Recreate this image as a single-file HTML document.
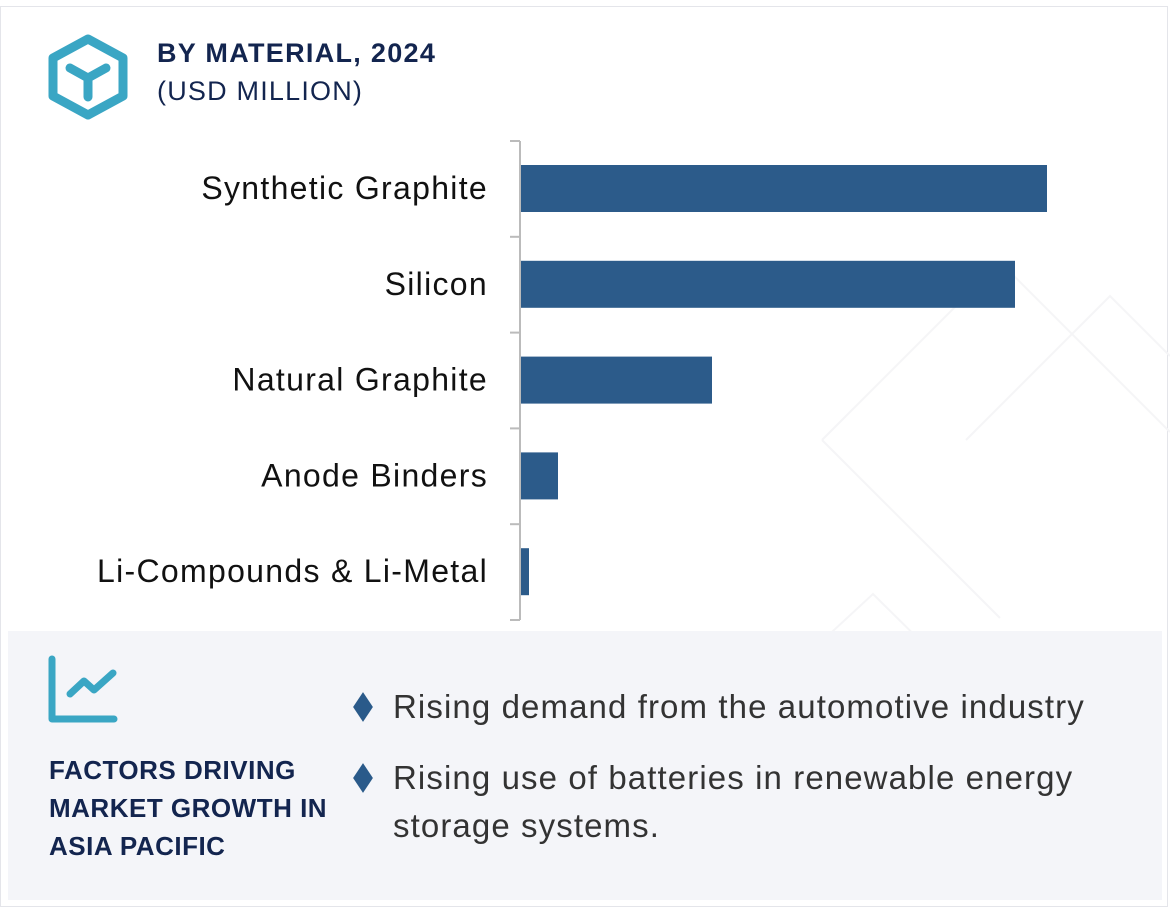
<!DOCTYPE html>
<html><head><meta charset="utf-8"><style>
body{margin:0;background:#fff;}
#wrap{position:relative;width:1170px;height:909px;overflow:hidden;font-family:"Liberation Sans",sans-serif;}
#frame{position:absolute;left:0;top:6px;width:1168px;height:901px;border:1px solid #e4e5ea;box-sizing:border-box;}
.t1{position:absolute;left:157px;top:38px;font-size:27px;font-weight:bold;color:#13254f;letter-spacing:1.3px;}
.t2{position:absolute;left:157px;top:76px;font-size:27px;color:#13254f;letter-spacing:1.2px;}
#panel{position:absolute;left:8px;top:631px;width:1154px;height:269px;background:#f4f5f9;}
.ft{position:absolute;left:49px;top:751px;font-size:26px;font-weight:bold;color:#13254f;line-height:38px;letter-spacing:0.5px;}
.b{position:absolute;left:393px;font-size:33px;color:#333;line-height:48px;letter-spacing:1.1px;}
.d{position:absolute;left:356px;width:14px;height:14px;background:#2a5a8a;transform:scaleY(1.5) rotate(45deg);}
</style></head><body>
<div id="wrap">
<div id="frame"></div>
<svg style="position:absolute;left:0;top:0" width="1170" height="909">
<polyline points="822,440 1000,262 1170,432" fill="none" stroke="#f5f5f7" stroke-width="2"/>
<polyline points="966,440 1110,296 1170,356" fill="none" stroke="#f5f5f7" stroke-width="2"/>
<polyline points="822,440 1000,618" fill="none" stroke="#f5f5f7" stroke-width="2"/>
<polyline points="780,680 873,594 960,680" fill="none" stroke="#f5f5f7" stroke-width="2"/>
</svg>
<svg style="position:absolute;left:46px;top:34px" width="84" height="86">
<polygon points="42,5 77,24 77,62 42,81 7,62 7,24" fill="none" stroke="#3aa6c4" stroke-width="9" stroke-linejoin="round"/>
<path d="M24,34 L42,44 L60,34 M42,44 L42,63" fill="none" stroke="#3aa6c4" stroke-width="9" stroke-linecap="round" stroke-linejoin="round"/>
</svg>
<div class="t1">BY MATERIAL, 2024</div>
<div class="t2">(USD MILLION)</div>
<svg id="chart" style="position:absolute;left:0;top:0" width="1170" height="640"></svg>
<div id="panel"></div>
<svg style="position:absolute;left:46px;top:654px" width="72" height="72">
<path d="M6,5 L6,65 L68,65" fill="none" stroke="#3aa6c4" stroke-width="7" stroke-linecap="round" stroke-linejoin="round"/>
<path d="M24,40 L38,27 L48,36 L67,19" fill="none" stroke="#3aa6c4" stroke-width="7" stroke-linecap="round" stroke-linejoin="round"/>
</svg>
<div class="ft">FACTORS DRIVING<br>MARKET GROWTH IN<br>ASIA PACIFIC</div>
<div class="d" style="top:700px"></div>
<div class="b" style="top:683px">Rising demand from the automotive industry</div>
<div class="d" style="top:771px"></div>
<div class="b" style="top:754px;line-height:48px">Rising use of batteries in renewable energy<br>storage systems.</div>
</div>
<script>
const categories=["Synthetic Graphite","Silicon","Natural Graphite","Anode Binders","Li-Compounds & Li-Metal"];
const values=[527,495,192,38,9];
const maxValue=527;
const svg=document.getElementById('chart');
const NS='http://www.w3.org/2000/svg';
const x0=520,x1=1047,yTop=141,band=95.8;
function xScale(v){return x0+(v/maxValue)*(x1-x0);}
function yScale(i){return yTop+i*band;}
function mk(t,a){const e=document.createElementNS(NS,t);for(const k in a)e.setAttribute(k,a[k]);svg.appendChild(e);return e;}
values.forEach((v,i)=>{
 const r=mk('rect',{x:x0,y:yScale(i)+24,width:xScale(v)-x0,height:47,fill:'#2c5b8a'});
 
 
 const t=mk('text',{x:488,y:yScale(i)+58,'text-anchor':'end','font-size':32,'letter-spacing':1.3,fill:'#111','font-family':'Liberation Sans, sans-serif'});
 t.textContent=categories[i];
 
 
});
for(let i=0;i<=categories.length;i++){
 const l=mk('line',{x1:510,x2:520,y1:yScale(i),y2:yScale(i),stroke:'#bbb','stroke-width':2});
 
 
}
const ax=mk('line',{x1:520,x2:520,y1:yTop,y2:yScale(categories.length),stroke:'#bbb','stroke-width':2});


</script>
</body></html>
